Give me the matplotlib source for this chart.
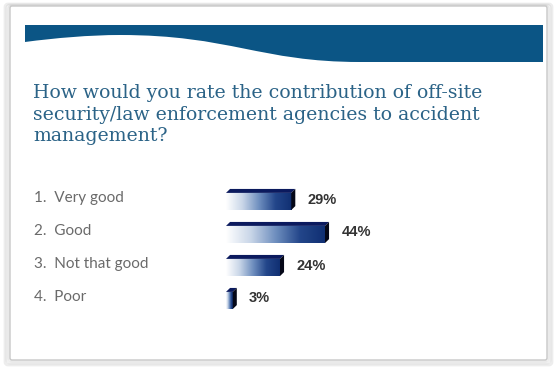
import numpy as np
import matplotlib.pyplot as plt
from matplotlib.patches import Polygon, Rectangle, FancyBboxPatch, PathPatch
from matplotlib.path import Path
from matplotlib.colors import LinearSegmentedColormap
from matplotlib.transforms import blended_transform_factory

# data
categories = ["1.  Very good", "2.  Good", "3.  Not that good", "4.  Poor"]
values = [29, 44, 24, 3]
title = ("How would you rate the contribution of off-site\n"
         "security/law enforcement agencies to accident\n"
         "management?")

W, H = 555, 372
fig = plt.figure(figsize=(W / 100, H / 100), dpi=100)
fig.patch.set_facecolor("white")

# background layer in pixel coords
bg = fig.add_axes([0, 0, 1, 1], zorder=0)
bg.set_xlim(0, W)
bg.set_ylim(H, 0)
bg.axis("off")

# card with soft shadow
for i, a in enumerate([0.06, 0.06, 0.07]):
    bg.add_patch(FancyBboxPatch((9 - i * 2, 6 - i), 539 + i * 4, 355 + i * 3,
                                boxstyle="round,pad=0,rounding_size=3",
                                fc="none", ec="black", lw=2, alpha=a))
bg.add_patch(FancyBboxPatch((10, 6), 537, 354,
                            boxstyle="round,pad=0,rounding_size=2",
                            fc="white", ec="#c8c8c8", lw=1))

# banner with wavy bottom edge
verts = [(25, 25), (543, 25), (543, 62), (360, 62),
         (260, 62), (230, 35), (120, 35),
         (90, 35), (55, 38), (25, 42), (25, 25)]
codes = [Path.MOVETO, Path.LINETO, Path.LINETO, Path.LINETO,
         Path.CURVE4, Path.CURVE4, Path.CURVE4,
         Path.CURVE4, Path.CURVE4, Path.CURVE4, Path.CLOSEPOLY]
bg.add_patch(PathPatch(Path(verts, codes), fc="#0b5585", ec="none"))

# title
bg.text(33, 84, title, fontsize=13.6, family="DejaVu Serif", color="#2b6387",
        va="top", ha="left", linespacing=1.26)

# bars axes
ax = fig.add_axes([226 / W, 1 - 315 / H, 225 / W, 132 / H], zorder=1)
ax.set_xlim(0, 100)
ax.set_ylim(len(values) - 0.5, -0.5)
ax.axis("off")

cmap = LinearSegmentedColormap.from_list(
    "bar", ["#ffffff", "#c9d6e8", "#6f8fbf", "#23468a", "#102f72"])
grad = np.linspace(0, 1, 256).reshape(1, -1)

bh = 0.52
dx, dy = 1.8, 0.12
for i, v in enumerate(values):
    y0 = i - bh / 2 + 0.06
    # top face
    ax.add_patch(Polygon([(0, y0), (dx, y0 - dy), (v + dx, y0 - dy), (v, y0)],
                         closed=True, fc="#0b1a5e", ec="none"))
    # side face
    ax.add_patch(Polygon([(v, y0), (v + dx, y0 - dy), (v + dx, y0 + bh - dy), (v, y0 + bh)],
                         closed=True, fc="#050818", ec="none"))
    # front face gradient
    rect = Rectangle((0, y0), v, bh, fc="none", ec="none")
    ax.add_patch(rect)
    im = ax.imshow(grad, cmap=cmap, aspect="auto",
                   extent=(0, v, y0 + bh, y0), interpolation="bilinear")
    im.set_clip_path(rect)
    ax.text(v + dx + 5.5, i, f"{v}%", fontsize=10.5, fontweight="bold",
            family="Liberation Sans", color="#333333", va="center", ha="left")

# category labels
tr = blended_transform_factory(bg.transData, ax.transData)
for i, c in enumerate(categories):
    ax.text(34, i - 0.05, c, transform=tr, fontsize=11, family="Lato",
            color="#6a6a6a", va="center", ha="left")

fig.savefig("out.png", dpi=100)
